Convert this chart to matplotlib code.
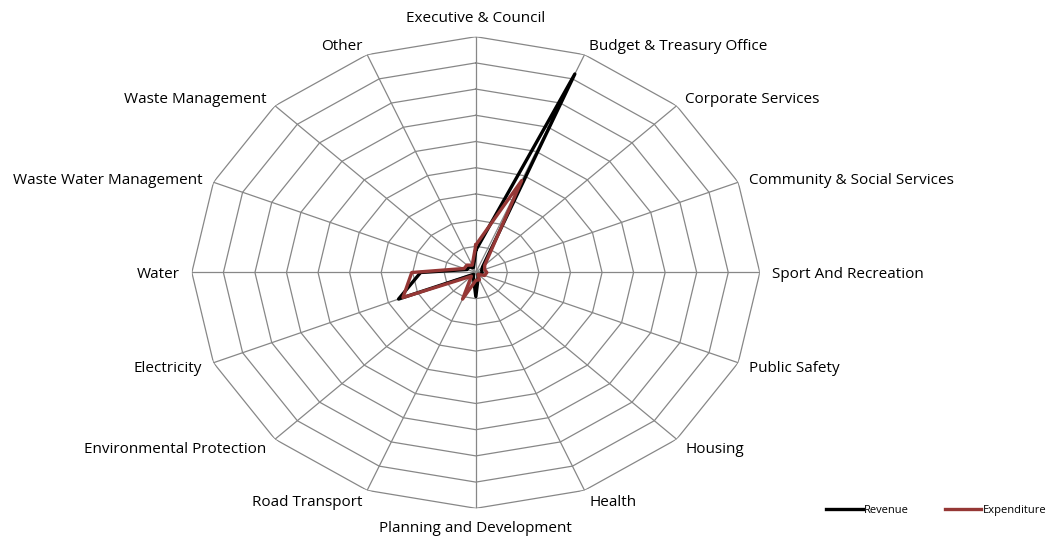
import numpy as np
import matplotlib
matplotlib.use("Agg")
import matplotlib.pyplot as plt

categories = ["Executive & Council", "Budget & Treasury Office", "Corporate Services",
              "Community & Social Services", "Sport And Recreation", "Public Safety",
              "Housing", "Health", "Planning and Development", "Road Transport",
              "Environmental Protection", "Electricity", "Water",
              "Waste Water Management", "Waste Management", "Other"]
revenue = [0.85, 8.2, 0.3, 0.2, 0.2, 0.2, 0.1, 0.2, 0.92, 0.2, 0.1, 2.65, 1.75, 0.3, 0.3, 0.2]
expenditure = [1.05, 3.8, 0.4, 0.3, 0.35, 0.3, 0.1, 0.3, 0.3, 1.1, 0.2, 2.5, 2.03, 0.4, 0.4, 0.3]
n_rings = 9

plt.rcParams['font.family'] = ['Open Sans', 'DejaVu Sans']

n = len(categories)
theta = np.arange(n) * 2 * np.pi / n
theta_c = np.append(theta, theta[0])

fig = plt.figure(figsize=(10.46, 5.38), dpi=100)
ax = fig.add_axes([0.1834, 0.0552, 0.543, 0.8766], projection='polar')
ax.set_aspect('auto')
ax.set_theta_zero_location('N')
ax.set_theta_direction(-1)
ax.set_ylim(0, n_rings)
ax.grid(False)
ax.set_xticks([])
ax.set_yticks([])
ax.spines['polar'].set_visible(False)
ax.patch.set_visible(False)

grid_col = "#878787"
for k in range(1, n_rings + 1):
    ax.plot(theta_c, [k] * (n + 1), color=grid_col, lw=0.9, zorder=1)
for t in theta:
    ax.plot([t, t], [0, n_rings], color=grid_col, lw=0.9, zorder=1)

ax.plot(theta_c, revenue + revenue[:1], color="black", lw=2.4, label="Revenue", zorder=3)
ax.plot(theta_c, expenditure + expenditure[:1], color="#953735", lw=2.4, label="Expenditure", zorder=4)

# category labels outside the outer ring
for t, lab in zip(theta, categories):
    s, c = np.sin(t), np.cos(t)
    dy = 11 * c
    if abs(s) < 1e-6:
        ha = 'center'
        va = 'bottom' if c > 0 else 'top'
        if c < 0:
            dy -= 2
    else:
        ha = 'left' if s > 0 else 'right'
        va = 'center'
        dy -= 2
    ax.annotate(lab, xy=(t, n_rings), xytext=(12 * s, dy), textcoords='offset pixels',
                ha=ha, va=va, fontsize=11, annotation_clip=False)

fig.legend(loc='center right', bbox_to_anchor=(1.0, 0.052), ncol=2, frameon=False,
           fontsize=8, handlelength=3.3, handletextpad=0.1, columnspacing=3.2,
           borderaxespad=0, borderpad=0)

fig.savefig("out.png", dpi=100)
